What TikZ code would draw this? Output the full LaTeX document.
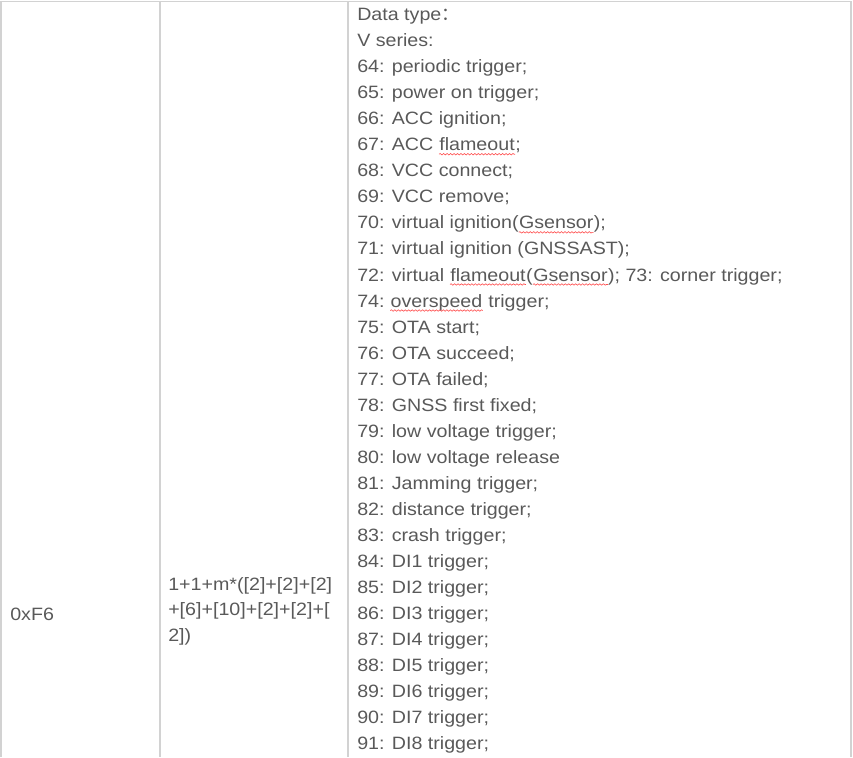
\documentclass[tikz,border=0pt]{standalone}
\usepackage{fontspec}
\usetikzlibrary{decorations.pathmorphing}
\setmainfont{Liberation Sans}[FakeStretch=1.1]
\newfontfamily\cjk{Noto Sans CJK SC}
\definecolor{txt}{HTML}{595959}
\definecolor{rule}{HTML}{D2D2D2}
\begin{document}
\begin{tikzpicture}[x=0.75pt,y=-0.75pt,
  cell/.style={anchor=base west,inner sep=0pt,text=txt,font=\fontsize{13.4pt}{19.5pt}\selectfont},
  grid/.style={draw=rule,line width=1.1pt},
  squig/.style={draw=red!70,line width=0.45pt,decorate,decoration={snake,amplitude=0.55pt,segment length=2.6pt}}]
\useasboundingbox (0,0) rectangle (853,757);
\draw[grid] (1,757) -- (1,1.5) -- (851,1.5) -- (851,757);
\draw[grid] (160,1.5) -- (160,757);
\draw[grid] (348,1.5) -- (348,757);
\node[cell] (id) at (10,620.5) {0xF6};
\node[cell] (len1) at (168,590) {1+1+m*([2]+[2]+[2]};
\node[cell] (len2) at (168,615.5) {+[6]+[10]+[2]+[2]+[};
\node[cell] (len3) at (168,641) {2])};
\node[cell] (l0) at (357,20.5) {Data type{\cjk ：}};
\node[cell] (l1) at (357,46.55) {V series:};
\node[cell] (l2) at (357,72.6) {64: periodic trigger;};
\node[cell] (l3) at (357,98.65) {65: power on trigger;};
\node[cell] (l4) at (357,124.7) {66: ACC ignition;};
\node[cell] (l5) at (357,150.75) {67: ACC\ \null};
\node[cell] (l5a) at (l5.base east) {flameout};
\node[cell] (l5b) at (l5a.base east) {;};
\node[cell] (l6) at (357,176.8) {68: VCC connect;};
\node[cell] (l7) at (357,202.85) {69: VCC remove;};
\node[cell] (l8) at (357,228.9) {70: virtual ignition(};
\node[cell] (l8a) at (l8.base east) {Gsensor};
\node[cell] (l8b) at (l8a.base east) {);};
\node[cell] (l9) at (357,254.95) {71: virtual ignition (GNSSAST);};
\node[cell] (l10) at (357,281) {72: virtual\ \null};
\node[cell] (l10a) at (l10.base east) {flameout};
\node[cell] (l10b) at (l10a.base east) {(};
\node[cell] (l10c) at (l10b.base east) {Gsensor};
\node[cell] (l10d) at (l10c.base east) {); 73: corner trigger;};
\node[cell] (l11) at (357,307.05) {74:\ \null};
\node[cell] (l11a) at (l11.base east) {overspeed};
\node[cell] (l11b) at (l11a.base east) {\null\ trigger;};
\node[cell] (l12) at (357,333.1) {75: OTA start;};
\node[cell] (l13) at (357,359.15) {76: OTA succeed;};
\node[cell] (l14) at (357,385.2) {77: OTA failed;};
\node[cell] (l15) at (357,411.25) {78: GNSS first fixed;};
\node[cell] (l16) at (357,437.3) {79: low voltage trigger;};
\node[cell] (l17) at (357,463.35) {80: low voltage release};
\node[cell] (l18) at (357,489.4) {81: Jamming trigger;};
\node[cell] (l19) at (357,515.45) {82: distance trigger;};
\node[cell] (l20) at (357,541.5) {83: crash trigger;};
\node[cell] (l21) at (357,567.55) {84: DI1 trigger;};
\node[cell] (l22) at (357,593.6) {85: DI2 trigger;};
\node[cell] (l23) at (357,619.65) {86: DI3 trigger;};
\node[cell] (l24) at (357,645.7) {87: DI4 trigger;};
\node[cell] (l25) at (357,671.75) {88: DI5 trigger;};
\node[cell] (l26) at (357,697.8) {89: DI6 trigger;};
\node[cell] (l27) at (357,723.85) {90: DI7 trigger;};
\node[cell] (l28) at (357,749.9) {91: DI8 trigger;};
\foreach \w in {l5a,l8a,l10a,l10c,l11a}
  \draw[squig] ([yshift=-2.6pt]\w.base west) -- ([yshift=-2.6pt]\w.base east);
\end{tikzpicture}
\end{document}
